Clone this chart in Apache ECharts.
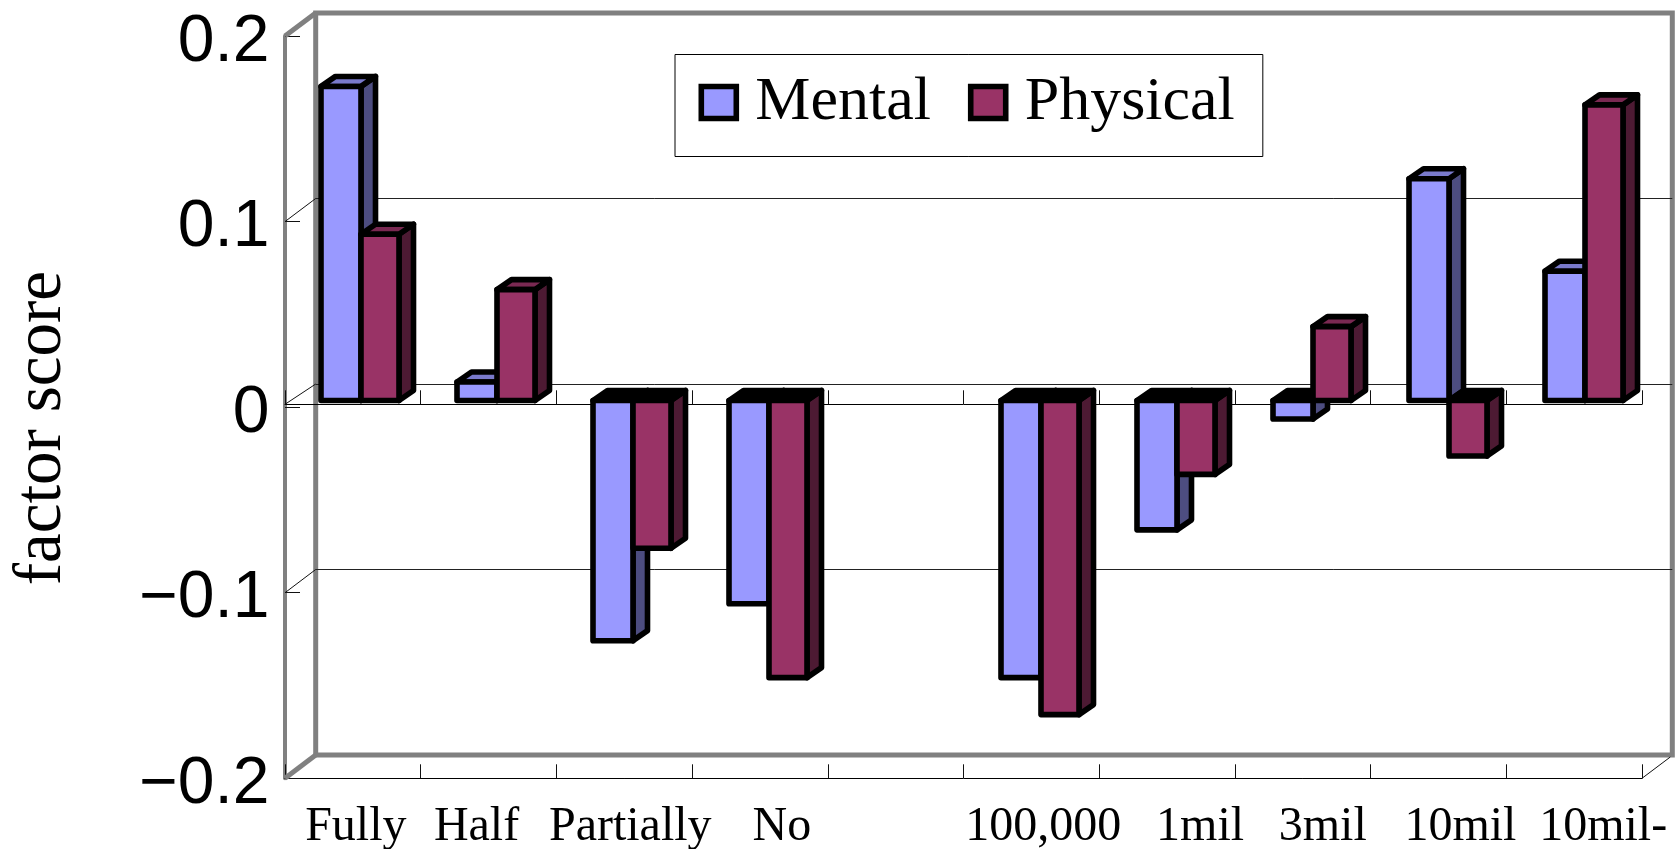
<!DOCTYPE html>
<html>
<head>
<meta charset="utf-8">
<style>html,body{margin:0;padding:0;background:#fff}#chart{width:1675px;height:849px}</style>
<script src="https://cdn.jsdelivr.net/npm/echarts@6/dist/echarts.min.js"></script>
</head>
<body>
<div id="chart"></div>
<script>
// ---- data ----
const categories = ['Fully', 'Half', 'Partially', 'No', '', '100,000', '1mil', '3mil', '10mil', '10mil-'];
const mentalScores = [0.17, 0.01, -0.13, -0.11, null, -0.15, -0.07, -0.01, 0.12, 0.07];
const physicalScores = [0.09, 0.06, -0.08, -0.15, null, -0.17, -0.04, 0.04, -0.03, 0.16];
const yTicks = [-0.2, -0.1, 0, 0.1, 0.2];
const seriesNames = ['Mental', 'Physical'];

// ---- layout and style (separate from the data) ----
const W = 1675, H = 849;
const labelShifts = [3, -12, 6, 22, 0, 12, 33, 20, 22, 29];
const front = {l: 285, r: 1642, t: 36, b: 778.3, zero: 404.3};
const back = {l: 315.7, r: 1672.3, t: 13, b: 755};
const plane = {l: 292, r: 1652, t: 31, b: 770};
const depth = {dx: 14.5, dy: 10};
const barWidths = [40, 38];
const strokeW = 5.6;
const GRAY = '#808080';
const faces = [
  {front: '#9999FF', top: '#7A7ACC', side: '#4D4D80'},
  {front: '#993366', top: '#7A2952', side: '#4D1A33'}
];
const SERIF = '"Liberation Serif","DejaVu Serif",serif';
const SANS = '"Liberation Sans",Arial,sans-serif';

function renderBar(seriesIdx) {
  return function (params, api) {
    const cat = api.value(0), val = api.value(1);
    const base = api.coord([cat, 0]), tip = api.coord([cat, val]);
    const pair = barWidths[0] + barWidths[1];
    const x0 = base[0] - pair / 2 + (seriesIdx === 0 ? 0 : barWidths[0]);
    const x1 = x0 + barWidths[seriesIdx];
    const yT = Math.min(base[1], tip[1]), yB = Math.max(base[1], tip[1]);
    const c = faces[seriesIdx], d = depth;
    const common = {stroke: '#000', lineWidth: strokeW, lineJoin: 'round'};
    return {
      type: 'group',
      children: [
        {type: 'polygon', shape: {points: [[x1, yT], [x1 + d.dx, yT - d.dy], [x1 + d.dx, yB - d.dy], [x1, yB]]},
          style: Object.assign({fill: c.side}, common)},
        {type: 'polygon', shape: {points: [[x0, yT], [x0 + d.dx, yT - d.dy], [x1 + d.dx, yT - d.dy], [x1, yT]]},
          style: Object.assign({fill: val < 0 ? '#000' : c.top}, common)},
        {type: 'rect', shape: {x: x0, y: yT, width: x1 - x0, height: yB - yT},
          style: Object.assign({fill: c.front}, common)}
      ]
    };
  };
}

function toRows(arr) {
  return arr.map((v, i) => [i, v]).filter(r => r[1] !== null);
}

function thin(x1, y1, x2, y2) {
  return {type: 'line', z: 1, shape: {x1, y1, x2, y2}, style: {stroke: '#111', lineWidth: 1}};
}
function thick(x1, y1, x2, y2) {
  return {type: 'line', z: 1, shape: {x1, y1, x2, y2}, style: {stroke: GRAY, lineWidth: 5}};
}
const axisScale = (front.b - front.t) / 0.4;

const tickStyle = {lineStyle: {color: '#111', width: 1}};
const option = {
  backgroundColor: '#fff',
  animation: false,
  grid: [
    // back wall
    {show: true, left: back.l, width: back.r - back.l, top: back.t, height: back.b - back.t,
      borderColor: GRAY, borderWidth: 5, backgroundColor: 'transparent', outerBoundsMode: 'none'},
    // front plane: value axis and category labels
    {left: front.l, width: front.r - front.l, top: front.t, height: front.b - front.t, outerBoundsMode: 'none'},
    // zero line of the front plane
    {left: front.l, width: front.r - front.l, top: front.t, height: front.zero - front.t, outerBoundsMode: 'none'},
    // plane in which the bars stand
    {left: plane.l, width: plane.r - plane.l, top: plane.t, height: plane.b - plane.t, outerBoundsMode: 'none'}
  ],
  xAxis: [
    {gridIndex: 0, type: 'category', data: categories, show: false},
    {gridIndex: 1, type: 'category', data: categories.map((c, i) => ({
        value: c,
        textStyle: {padding: labelShifts[i] >= 0 ? [0, 0, 0, 2 * labelShifts[i]] : [0, -2 * labelShifts[i], 0, 0]}
      })),
      axisLine: {show: true, onZero: false, lineStyle: {color: '#000', width: 1}},
      axisTick: Object.assign({show: true, interval: 0, inside: true, length: 14}, tickStyle),
      axisLabel: {interval: 0, hideOverlap: false, margin: 25, fontFamily: SERIF, fontSize: 48, color: '#000'}},
    {gridIndex: 2, type: 'category', data: categories,
      axisLine: {show: true, onZero: false, lineStyle: {color: '#000', width: 1}},
      axisTick: Object.assign({show: true, interval: 0, inside: true, length: 14}, tickStyle),
      axisLabel: {show: false}},
    {gridIndex: 3, type: 'category', data: categories, show: false}
  ],
  yAxis: [
    {gridIndex: 0, type: 'value', min: -0.2, max: 0.2, interval: 0.1,
      axisLine: {show: false}, axisTick: {show: false}, axisLabel: {show: false},
      splitLine: {show: true, showMinLine: false, showMaxLine: false, lineStyle: {color: '#222', width: 1}}},
    {gridIndex: 1, type: 'value', min: -0.2, max: 0.2, interval: 0.1,
      name: 'factor score', nameLocation: 'middle', nameRotate: 90, nameGap: 209,
      nameTextStyle: {fontFamily: SERIF, fontSize: 67, color: '#000', padding: [0, 42, 0, 0]},
      axisLine: {show: true, lineStyle: {color: GRAY, width: 4}},
      axisTick: Object.assign({show: true, inside: true, length: 15}, tickStyle),
      splitLine: {show: false},
      axisLabel: {margin: 15.5, fontFamily: SANS, fontSize: 66, color: '#000',
        verticalAlign: 'top', lineHeight: 13,
        formatter: v => {
          const t = yTicks.find(k => Math.abs(k - v) < 1e-9);
          return t === 0 ? '0' : (t < 0 ? '\u2212' : '') + Math.abs(t);
        }}},
    {gridIndex: 2, type: 'value', min: 0, max: 0.2, show: false},
    {gridIndex: 3, type: 'value', min: -0.2, max: 0.2, show: false}
  ],
  legend: {
    left: 675, top: 54.5, padding: [17, 28, 23, 23.5], orient: 'horizontal',
    backgroundColor: '#fff', borderColor: '#000', borderWidth: 1, borderRadius: 0,
    itemWidth: 35, itemHeight: 32, itemGap: 37, selectedMode: false, icon: 'rect',
    textStyle: {fontFamily: SERIF, fontSize: 62, color: '#000', padding: [0, 0, 2, 14]},
    itemStyle: {borderColor: '#000', borderWidth: strokeW},
    data: seriesNames
  },
  graphic: [
    // depth edges of the frame
    thick(front.l, front.t, back.l, back.t),
    thick(front.l, front.b, back.l, back.b),
    thin(front.l, front.t + axisScale * 0.1, back.l, back.t + (back.b - back.t) / 4),
    thin(front.l, front.zero, back.l, back.t + (back.b - back.t) / 2),
    thin(front.l, front.t + axisScale * 0.3, back.l, back.t + 3 * (back.b - back.t) / 4),
    thin(front.r, front.b, back.r - 2, back.b + 2)
  ],
  series: seriesNames.map((name, idx) => ({
    name,
    type: 'custom',
    coordinateSystem: 'cartesian2d',
    xAxisIndex: 3, yAxisIndex: 3,
    clip: false,
    z: 5 + idx,
    itemStyle: {color: faces[idx].front},
    encode: {x: 0, y: 1},
    renderItem: renderBar(idx),
    data: toRows(idx === 0 ? mentalScores : physicalScores)
  }))
};
const chart = echarts.init(document.getElementById('chart'), null, {renderer: 'canvas', width: W, height: H});
chart.setOption(option);
</script>
</body>
</html>
